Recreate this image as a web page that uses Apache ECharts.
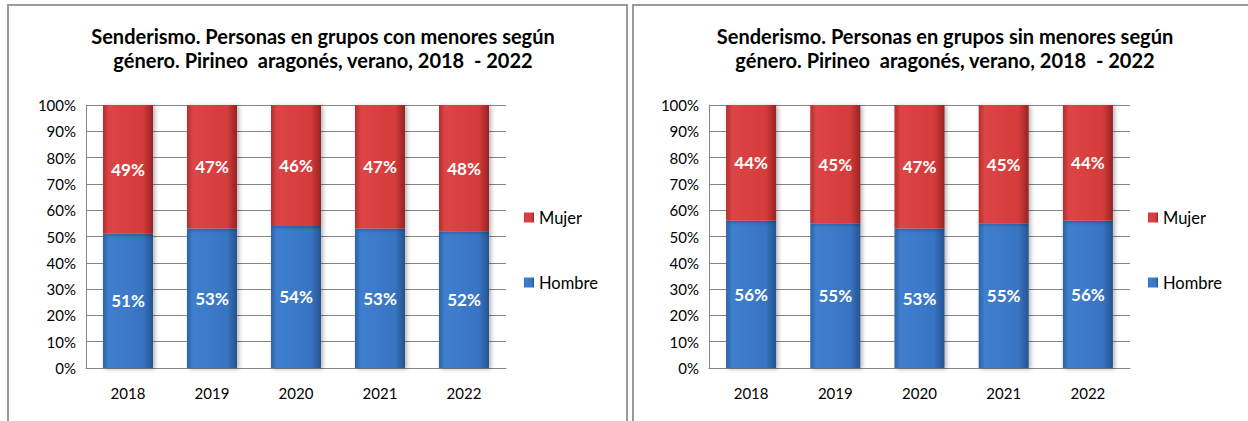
<!DOCTYPE html>
<html>
<head>
<meta charset="utf-8">
<script src="https://cdn.jsdelivr.net/npm/echarts@6/dist/echarts.min.js"></script>
<style>
  html, body { margin: 0; padding: 0; background: #fff; }
  #chart { width: 1248px; height: 421px; }
</style>
</head>
<body>
<div id="chart"></div>
<script>
// ─── datos ───────────────────────────────────────────
const years = ['2018', '2019', '2020', '2021', '2022'];
const yTicks = [0, 10, 20, 30, 40, 50, 60, 70, 80, 90, 100];

// grupos con menores
const conHombre = [51, 53, 54, 53, 52];
const conMujer = [49, 47, 46, 47, 48];

// grupos sin menores
const sinHombre = [56, 55, 53, 55, 56];
const sinMujer = [44, 45, 47, 45, 44];

const titleCon = 'Senderismo. Personas en grupos con menores según\ngénero. Pirineo  aragonés, verano, 2018  - 2022';
const titleSin = 'Senderismo. Personas en grupos sin menores según\ngénero. Pirineo  aragonés, verano, 2018  - 2022';

const FONT = 'Lato, "Open Sans", sans-serif';
const GRID_COLOR = '#868686';

// relleno tipo bisel de Excel
function bevel(dark, mid, light, edge) {
  return new echarts.graphic.LinearGradient(0, 0, 1, 0, [
    { offset: 0, color: dark },
    { offset: 0.12, color: light },
    { offset: 0.8, color: mid },
    { offset: 1, color: edge }
  ]);
}
const RED = bevel('#b02e2e', '#d53b3b', '#dd4545', '#952424');
const BLUE = bevel('#2b62a6', '#3874c2', '#3f7fcf', '#24548f');

function yAxis(gridIndex) {
  return {
    type: 'value', gridIndex, min: yTicks[0], max: yTicks[yTicks.length - 1], interval: 10,
    axisLabel: { formatter: '{value}%', fontFamily: FONT, fontSize: 15, color: '#000', margin: 10 },
    axisLine: { show: true, lineStyle: { color: GRID_COLOR } },
    axisTick: { show: false },
    splitLine: { lineStyle: { color: GRID_COLOR } }
  };
}

function xAxis(gridIndex) {
  return {
    type: 'category', gridIndex, data: years,
    axisLabel: { fontFamily: FONT, fontSize: 15, color: '#000', margin: 17 },
    axisLine: { lineStyle: { color: GRID_COLOR } },
    axisTick: { show: false }
  };
}

function barSeries(name, data, idx, color, stack) {
  return {
    name, type: 'bar', data, stack, xAxisIndex: idx, yAxisIndex: idx,
    barWidth: 50,
    itemStyle: {
      color,
      shadowColor: 'rgba(0,0,0,0.3)', shadowBlur: 4, shadowOffsetX: 2, shadowOffsetY: 1
    },
    label: {
      show: true, position: 'inside', formatter: '{c}%',
      color: '#fff', fontFamily: FONT, fontWeight: 'bold', fontSize: 17
    }
  };
}

function titleOf(text, cx) {
  return {
    text, left: cx, top: 19, textAlign: 'center',
    textStyle: { fontFamily: FONT, fontSize: 20, fontWeight: 'bold', color: '#000', lineHeight: 24 }
  };
}

function legendAt(x) {
  return {
    orient: 'vertical', left: x, top: 204,
    data: ['Mujer', 'Hombre'],
    itemWidth: 10, itemHeight: 10, itemGap: 48,
    icon: 'rect',
    textStyle: { fontFamily: FONT, fontSize: 16.5, color: '#000', lineHeight: 17 },
    selectedMode: false
  };
}

const chart = echarts.init(document.getElementById('chart'), null, { renderer: 'svg' });

chart.setOption({
  animation: false,
  backgroundColor: '#fff',
  title: [titleOf(titleCon, 318), titleOf(titleSin, 940)],
  legend: [legendAt(519), legendAt(1143)],
  grid: [
    { left: 86, top: 105, width: 420, height: 263 },
    { left: 709, top: 105, width: 421, height: 263 }
  ],
  xAxis: [xAxis(0), xAxis(1)],
  yAxis: [yAxis(0), yAxis(1)],
  graphic: [
    { type: 'rect', shape: { x: 8, y: 5, width: 619, height: 440 }, style: { fill: 'none', stroke: '#9a9a9a', lineWidth: 2 }, silent: true },
    { type: 'rect', shape: { x: 633, y: 5, width: 640, height: 440 }, style: { fill: 'none', stroke: '#9a9a9a', lineWidth: 2 }, silent: true }
  ],
  series: [
    barSeries('Hombre', conHombre, 0, BLUE, 'con'),
    barSeries('Mujer', conMujer, 0, RED, 'con'),
    barSeries('Hombre', sinHombre, 1, BLUE, 'sin'),
    barSeries('Mujer', sinMujer, 1, RED, 'sin')
  ]
});
</script>
</body>
</html>
